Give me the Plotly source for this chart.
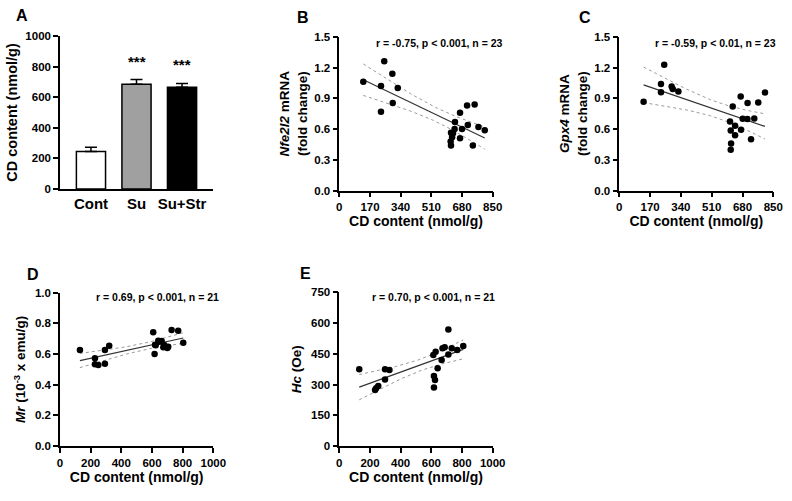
import numpy as np
import plotly.graph_objects as go

# ---------------- DATA ----------------
# Panel A
groups = ["Cont", "Su", "Su+Str"]
cd_mean = [245, 685, 665]
cd_sem = [28, 30, 25]
sig_labels = ["", "***", "***"]

# Panel B: CD content vs Nfe2l2 mRNA (n = 23)
b_cd = [133, 231, 249, 231, 294, 324, 296,
        669, 708, 750, 641, 680, 712, 771, 806, 639, 619, 617, 625, 619, 669, 740, 630]
b_nfe = [1.06, 1.02, 1.26, 0.77, 1.14, 1.00, 0.855,
         0.76, 0.83, 0.84, 0.67, 0.60, 0.64, 0.62, 0.59, 0.60, 0.565, 0.48, 0.52, 0.44, 0.51, 0.44, 0.56]

# Panel C: CD content vs Gpx4 mRNA (n = 23)
c_cd = [134, 248, 230, 230, 289, 295, 326,
        626, 670, 708, 767, 804, 611, 639, 615, 672, 639, 681, 707, 745, 727, 617, 615]
c_gpx = [0.867, 1.227, 1.04, 0.96, 1.015, 0.99, 0.967,
         0.82, 0.918, 0.854, 0.86, 0.957, 0.675, 0.633, 0.587, 0.594, 0.539, 0.70, 0.698, 0.704, 0.50, 0.46, 0.40]

# Panel D: CD content vs Mr (n = 21)
d_cd = [130, 228, 228, 250, 293, 293, 321,
        608, 617, 624, 641, 663, 680, 706, 674, 728, 771, 804, 620, 650, 700]
d_mr = [0.626, 0.572, 0.533, 0.528, 0.537, 0.626, 0.654,
        0.742, 0.60, 0.657, 0.687, 0.685, 0.659, 0.648, 0.644, 0.757, 0.752, 0.674, 0.66, 0.68, 0.64]

# Panel E: CD content vs Hc (n = 21)
e_cd = [130, 233, 240, 254, 298, 327, 298,
        617, 617, 624, 613, 628, 641, 667, 673, 687, 711, 711, 733, 769, 808]
e_hc = [374, 273, 282, 293, 374, 371, 325,
        286, 342, 322, 444, 460, 379, 420, 477, 482, 569, 447, 477, 469, 488]

stat_texts = ["r = -0.75, p < 0.001, n = 23",
              "r = -0.59, p < 0.01, n = 23",
              "r = 0.69, p < 0.001, n = 21",
              "r = 0.70, p < 0.001, n = 21"]

# two-sided 95% t critical values for df = n - 2
t_crit = {21: 2.080, 19: 2.093}

FONT = "Liberation Sans, Arial, sans-serif"
W, H = 792, 501


def px_x(p):
    return p / W


def px_y(p):
    return 1 - p / H


fig = go.Figure()

# ---------------- Panel A ----------------
bar_colors = ["white", "#a0a0a0", "black"]
fig.add_trace(go.Bar(
    x=groups, y=cd_mean,
    marker=dict(color=bar_colors, line=dict(color="black", width=1.5)),
    width=0.64,
    error_y=dict(type="data", symmetric=False, array=cd_sem, arrayminus=[0, 0, 0],
                 color="black", thickness=1.5, width=6),
    xaxis="x", yaxis="y", showlegend=False,
))
for g, m, s, lab in zip(groups, cd_mean, cd_sem, sig_labels):
    if lab:
        fig.add_annotation(x=g, y=m + s, xref="x", yref="y", text=lab, showarrow=False,
                           yanchor="bottom", yshift=8,
                           font=dict(size=15, family=FONT, color="black", weight="bold"))


# ---------------- scatter panels ----------------
def add_scatter_panel(xs, ys, xa, ya):
    x = np.array(xs, dtype=float)
    y = np.array(ys, dtype=float)
    n = len(x)
    b, a = np.polyfit(x, y, 1)
    xf = np.linspace(x.min(), x.max(), 60)
    yf = a + b * xf
    resid = y - (a + b * x)
    s = np.sqrt(np.sum(resid ** 2) / (n - 2))
    sxx = np.sum((x - x.mean()) ** 2)
    se = s * np.sqrt(1 / n + (xf - x.mean()) ** 2 / sxx)
    t = t_crit[n - 2]
    for band in (yf + t * se, yf - t * se):
        fig.add_trace(go.Scatter(x=xf, y=band, mode="lines",
                                 line=dict(color="#9a9a9a", width=1, dash="dot"),
                                 xaxis=xa, yaxis=ya, showlegend=False, hoverinfo="skip"))
    fig.add_trace(go.Scatter(x=xf, y=yf, mode="lines",
                             line=dict(color="#333333", width=1.2),
                             xaxis=xa, yaxis=ya, showlegend=False, hoverinfo="skip"))
    fig.add_trace(go.Scatter(x=x, y=y, mode="markers",
                             marker=dict(color="black", size=6.5),
                             xaxis=xa, yaxis=ya, showlegend=False))


add_scatter_panel(b_cd, b_nfe, "x2", "y2")
add_scatter_panel(c_cd, c_gpx, "x3", "y3")
add_scatter_panel(d_cd, d_mr, "x4", "y4")
add_scatter_panel(e_cd, e_hc, "x5", "y5")

# ---------------- axes ----------------
common = dict(showgrid=False, zeroline=False, showline=True, linecolor="black", linewidth=1.5,
              ticks="outside", ticklen=5, tickwidth=1.5, tickcolor="black",
              tickfont=dict(size=11.5, family=FONT, color="black", weight="bold"),
              automargin=False, fixedrange=True)
xtitle_font = dict(size=14, family=FONT, color="black", weight="bold")
ytitle_font = dict(size=13.5, family=FONT, color="black", weight="bold")

panels = {
    # name: (x domain px, y domain px (top, bottom))
    "A": ((60, 213), (36, 189)),
    "B": ((339.3, 492.7), (36.7, 190.7)),
    "C": ((619.3, 773.3), (36.7, 190.7)),
    "D": ((60, 213.3), (292.7, 446)),
    "E": ((339.3, 492.7), (292.3, 446)),
}


def dom(p):
    (x0, x1), (yt, yb) = panels[p]
    return [px_x(x0), px_x(x1)], [px_y(yb), px_y(yt)]


xd, yd = dom("A")
fig.update_layout(
    xaxis=dict(common, domain=xd, anchor="y", range=[-0.68, 2.68], ticks="",
               tickfont=dict(size=15, family=FONT, color="black", weight="bold")),
    yaxis=dict(common, domain=yd, anchor="x", range=[0, 1000], dtick=200,
               title=dict(text="CD content (nmol/g)", standoff=4,
                          font=dict(size=14.5, family=FONT, color="black", weight="bold"))),
)

xd, yd = dom("B")
fig.update_layout(
    xaxis2=dict(common, domain=xd, anchor="y2", range=[0, 850], dtick=170,
                title=dict(text="CD content (nmol/g)", standoff=2, font=xtitle_font)),
    yaxis2=dict(common, domain=yd, anchor="x2", range=[0, 1.5], dtick=0.3, tickformat=".1f",
                title=dict(text="<i>Nfe2l2</i> mRNA<br>(fold change)", standoff=4, font=ytitle_font)),
)
xd, yd = dom("C")
fig.update_layout(
    xaxis3=dict(common, domain=xd, anchor="y3", range=[0, 850], dtick=170,
                title=dict(text="CD content (nmol/g)", standoff=2, font=xtitle_font)),
    yaxis3=dict(common, domain=yd, anchor="x3", range=[0, 1.5], dtick=0.3, tickformat=".1f",
                title=dict(text="<i>Gpx4</i> mRNA<br>(fold change)", standoff=4, font=ytitle_font)),
)
xd, yd = dom("D")
fig.update_layout(
    xaxis4=dict(common, domain=xd, anchor="y4", range=[0, 1000], dtick=200,
                title=dict(text="CD content (nmol/g)", standoff=3, font=xtitle_font)),
    yaxis4=dict(common, domain=yd, anchor="x4", range=[0, 1.0], dtick=0.2, tickformat=".1f",
                title=dict(text="<i>Mr</i> (10<sup>-3</sup> x emu/g)", standoff=6, font=ytitle_font)),
)
xd, yd = dom("E")
fig.update_layout(
    xaxis5=dict(common, domain=xd, anchor="y5", range=[0, 1000], dtick=200,
                title=dict(text="CD content (nmol/g)", standoff=3, font=xtitle_font)),
    yaxis5=dict(common, domain=yd, anchor="x5", range=[0, 750], dtick=150,
                title=dict(text="<i>Hc</i> (Oe)", standoff=6, font=ytitle_font)),
)

# ---------------- panel letters & stats ----------------
letters = [("A", 22, 15), ("B", 303, 17), ("C", 585, 18), ("D", 33, 274), ("E", 305, 273)]
for txt, x, y in letters:
    fig.add_annotation(x=px_x(x), y=px_y(y), xref="paper", yref="paper", text=txt,
                       showarrow=False, xanchor="center", yanchor="middle",
                       font=dict(size=16, family=FONT, color="black", weight="bold"))

stat_pos = [(439, 43), (715, 43), (157, 297), (433, 297)]
for txt, (x, y) in zip(stat_texts, stat_pos):
    fig.add_annotation(x=px_x(x), y=px_y(y), xref="paper", yref="paper", text=txt,
                       showarrow=False, xanchor="center", yanchor="middle",
                       font=dict(size=10.5, family=FONT, color="black", weight="bold"))

fig.update_layout(
    width=W, height=H, margin=dict(l=0, r=0, t=0, b=0),
    paper_bgcolor="white", plot_bgcolor="white",
    font=dict(family=FONT, color="black", weight="bold"),
    bargap=0.3,
)

fig.write_html("out.html")
